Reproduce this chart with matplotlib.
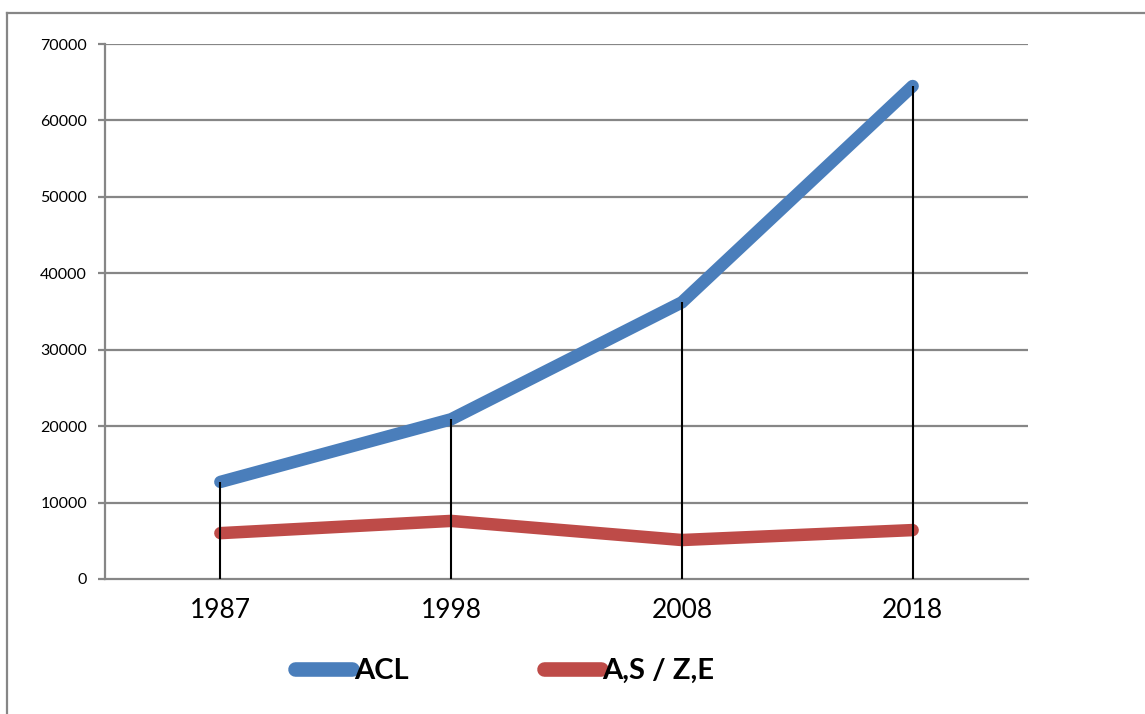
import matplotlib.pyplot as plt
from matplotlib.lines import Line2D

years = ['1987', '1998', '2008', '2018']
acl = [12700, 20900, 36200, 64500]
asze = [6000, 7600, 5100, 6400]
yticks = [0, 10000, 20000, 30000, 40000, 50000, 60000, 70000]

blue = '#4a7ebb'
red = '#be4b48'
grid = '#868686'

plt.rcParams['font.family'] = ['Lato', 'DejaVu Sans']

fig = plt.figure(figsize=(11.45, 7.14), dpi=100)
ax = fig.add_axes([105 / 1145, 1 - 579 / 714, 923 / 1145, 535 / 714])

x = [i + 0.5 for i in range(len(years))]

# gridlines
for v in yticks[1:]:
    ax.axhline(v, color=grid, lw=1.6, zorder=1)

# drop lines from the top series down to the axis
ax.vlines(x, 0, acl, color='black', lw=1.5, zorder=4)

ax.plot(x, acl, color=blue, lw=9, solid_capstyle='round',
        solid_joinstyle='miter', zorder=3, label='ACL')
ax.plot(x, asze, color=red, lw=9, solid_capstyle='round',
        solid_joinstyle='miter', zorder=3, label='A,S / Z,E')

ax.set_xlim(0, 4)
ax.set_ylim(0, 70000)
ax.set_xticks(x)
ax.set_xticklabels(years, fontsize=19)
ax.set_yticks(yticks)
ax.set_yticklabels([str(v) for v in yticks], fontsize=11.5)
ax.tick_params(axis='x', length=0, pad=14)
ax.tick_params(axis='y', length=5, width=1.6, color=grid, pad=8)

for s in ['top', 'right']:
    ax.spines[s].set_visible(False)
for s in ['left', 'bottom']:
    ax.spines[s].set_color(grid)
    ax.spines[s].set_linewidth(1.6)

handles = [Line2D([], [], color=blue, lw=10.5, solid_capstyle='round'),
           Line2D([], [], color=red, lw=10.5, solid_capstyle='round')]
leg = fig.legend(handles, ['ACL', 'A,S / Z,E'], loc='center',
                 bbox_to_anchor=(0.441, 1 - 671 / 714), ncol=2, frameon=False,
                 handlelength=1.95, handletextpad=0.05, columnspacing=4.65,
                 prop={'weight': 'bold', 'size': 21})

# outer chart frame
fig.add_artist(Line2D([7 / 1145, 7 / 1145], [0, 1 - 13 / 714],
                      transform=fig.transFigure, color=grid, lw=1.6))
fig.add_artist(Line2D([7 / 1145, 1], [1 - 13 / 714, 1 - 13 / 714],
                      transform=fig.transFigure, color=grid, lw=1.6))

fig.savefig('out.png', dpi=100)
